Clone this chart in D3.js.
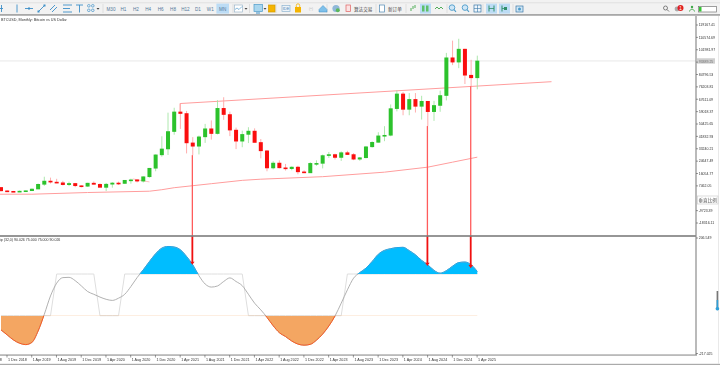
<!DOCTYPE html>
<html><head><meta charset="utf-8">
<script src="https://cdn.jsdelivr.net/npm/d3@7/dist/d3.min.js"></script>
<style>
html,body{margin:0;padding:0;background:#fff;overflow:hidden}
svg{display:block;filter:blur(.3px)}
text{font-family:"Liberation Sans","DejaVu Sans",sans-serif}
</style></head><body>
<div id="chart"></div>
<script>
const chartTitle = "BTCUSD, Monthly:  Bitcoin vs US Dollar";
const indicatorTitle = "ip (32,0) 90.026 75.000 75.000 90.026";
const firstMonth = [2018, 10];
const opens  = [6370,4020,3700,3450,3800,4100,5260,8550,10800,10080,9600,8300,9150,7560,7200,9350,8530,6420,8620,9450,9140,11350,11650,10780,13800,19700,29000,33100,45200,58800,57700,37300,35000,41500,47100,43800,61300,57000,46200,38500,43200,45500,37600,31800,19900,23300,20000,19400,20500,17200,16500,23100,23100,28500,29200,27200,30500,29200,26000,27000,34600,37700,42200,42600,61100,71300,60600,67500,62700,66200,59000,63300,70200,96400,93400,102400,84300,82500];
const highs  = [6600,4400,3950,4200,4150,5620,9100,13800,13200,12350,10950,10400,9530,7750,9600,10500,9200,9500,10000,10400,11450,12470,12050,14100,19900,29300,41900,58300,61700,64800,59500,41300,42400,50500,52900,67000,69000,59000,47900,45800,48200,47400,40000,32300,24600,25200,22700,21000,21400,18300,23900,25200,29200,31000,29800,31400,31800,30200,27500,35200,38400,44700,48900,64000,73800,72700,71900,71900,70000,65000,66500,73600,99800,108300,109600,102700,95000,97900];
const lows   = [3650,3150,3350,3400,3700,4050,5250,7450,9100,9300,7750,7300,6550,6430,6850,8450,8500,3850,6200,8100,8900,9000,9900,9800,13200,17600,27700,28900,43000,47000,30000,28800,29300,37300,39600,43200,53300,42000,33000,34300,37200,37600,26600,17600,18900,19600,18100,18300,15500,16300,16500,21400,19600,26900,25800,24800,28900,25300,24900,26600,34000,37600,38500,41900,59200,56500,56500,58400,53500,49000,52600,58900,66800,91300,89200,78200,76600,74500];
const closes = [4020,3700,3450,3800,4100,5260,8550,10800,10080,9600,8300,9150,7560,7200,9350,8530,6420,8620,9450,9140,11350,11650,10780,13800,19700,29000,33100,45200,58800,57700,37300,35000,41500,47100,43800,61300,57000,46200,38500,43200,45500,37600,31800,19900,23300,20000,19400,20500,17200,16500,23100,23100,28500,29200,27200,30500,29200,26000,27000,34600,37700,42200,42600,61100,71300,60600,67500,62700,66200,59000,63300,70200,96400,93400,102400,84300,82500,94200];
const maMonths = [-1,5,14,24,26,28,34,39,42,52,62,69,73,77];
const maPrices = [1670,1670,2850,3760,4800,6190,8980,11300,12100,13850,16980,20460,23930,27400];
const priceTicks = ["119167.41","110574.69","101981.97","93389.25","84796.53","76203.81","67611.09","59018.37","50425.65","41832.93","33240.21","24647.49","16054.77","7462.05","-9723.39","-18316.11"];
const currentPrice = 94200;
const trendMonths = [28.95, 89];
const trendPrices = [64640, 79800];
const trendSmallMonths = [21.3, 24];
const trendSmallPrices = [12300, 10200];
const oscValues = [-126,-144,-162,-174,-179,-171,-130,-70,-4,42,62,63,51,32,12,2,-8,-16,-20,-12,2,30,62,90,120,148,168,174,172,162,138,108,69,39,28,32,48,61,48,33,2,-30,-54,-81,-111,-136,-150,-166,-177,-181,-178,-163,-141,-112,-76,-30,18,60,80,96,120,146,160,166,170,171,159,144,124,108,88,78,87,103,116,118,108,84];
const stepValues = [-75,-75,-75,-75,-75,-75,-75,-75,-75,75,75,75,75,75,75,75,-75,-75,-75,-75,75,75,75,75,75,75,75,75,75,75,75,75,75,75,75,75,75,75,75,75,-75,-75,-75,-75,-75,-75,-75,-75,-75,-75,-75,-75,-75,-75,-75,-75,75,75,75,75,75,75,75,75,75,75,75,75,75,75,75,75,75,75,75,75,75,75];
const oscTicks = [206.549,-217.025];
const arrowMonths = [31, 69, 76];
const arrowEndOsc = [108, 104, 96];
const timeframes = ["M30","H1","H2","H4","H6","H8","H12","D1","W1","MN"];
const monthNames = ["Jan","Feb","Mar","Apr","May","Jun","Jul","Aug","Sep","Oct","Nov","Dec"];

const W=720,H=365;
const svg=d3.select("#chart").append("svg").attr("width",W).attr("height",H).attr("viewBox",`0 0 ${W} ${H}`);
const axisX=696, mainTop=16, sepY=236, oscBottom=355;
const x=d3.scaleLinear().domain([0,77]).range([1,477.3]);
const y=d3.scaleLinear().domain([119167.41,-18316.11]).range([25,223]);
const yo=d3.scaleLinear().domain([75,-75]).range([274,315.7]);
const defs=svg.append("defs");
defs.append("clipPath").attr("id","cm").append("rect").attr("x",0).attr("y",mainTop).attr("width",axisX).attr("height",sepY-mainTop);
defs.append("clipPath").attr("id","co").append("rect").attr("x",0).attr("y",sepY).attr("width",axisX).attr("height",oscBottom-sepY);
defs.append("clipPath").attr("id","up").append("rect").attr("x",0).attr("y",sepY).attr("width",axisX).attr("height",yo(75)-sepY);
defs.append("clipPath").attr("id","dn").append("rect").attr("x",0).attr("y",yo(-75)).attr("width",axisX).attr("height",oscBottom-yo(-75));

/* toolbar */
const tb=svg.append("g");
tb.append("rect").attr("width",W).attr("height",14).attr("fill","#f2f2f2");
tb.append("rect").attr("y",2.4).attr("width",W).attr("height",.8).attr("fill","#dcdcdc");
tb.append("rect").attr("y",14).attr("width",W).attr("height",1.8).attr("fill","#a8a8a8");
const iconBlue="#3d8fc7";
const xTf=d3.scaleLinear().domain([0,9]).range([111,222.7]);
tb.append("rect").attr("x",xTf(9)-6.3).attr("y",3.6).attr("width",12.6).attr("height",10).attr("fill","#bcdcf5");
tb.selectAll("text.tf").data(timeframes).join("text").attr("class","tf").attr("x",(d,i)=>xTf(i)).attr("y",10.6)
  .attr("text-anchor","middle").attr("font-size",4.6).attr("fill","#54799a").text(d=>d);
const line=(x1,y1,x2,y2,c=iconBlue,w=.9)=>tb.append("line").attr("x1",x1).attr("y1",y1).attr("x2",x2).attr("y2",y2).attr("stroke",c).attr("stroke-width",w);
const box=(x0,y0,w,h,c,s)=>tb.append("rect").attr("x",x0).attr("y",y0).attr("width",w).attr("height",h).attr("fill",c).attr("stroke",s||"none").attr("stroke-width",.7);
line(0,8.5,3,8.5);line(1.5,5,1.5,12);
line(17,4.5,17,12.5);line(25,8.5,33,8.5);box(28,7.5,2,2,iconBlue);
line(38,12,45,5);box(37.5,10.5,2,2,iconBlue);box(43.5,4.5,2,2,iconBlue);
line(50,10,55,5);line(52,12,57,7);
line(63,5,72,5);line(63,8.5,70,8.5);line(63,12,72,12);
line(76,5,83,5);line(79.5,5,79.5,12.5);
[[88,5],[92,5],[88,9.5],[92,9.5]].forEach(p=>tb.append("circle").attr("cx",p[0]+.8).attr("cy",p[1]+.8).attr("r",1.3).attr("fill","none").attr("stroke",iconBlue).attr("stroke-width",.7));
tb.append("path").attr("d","M96.5 8l3 0-1.5 1.7z").attr("fill","#444");
[103,233,249.5,276,327,376,406,447,483,513].forEach(p=>line(p,4,p,13,"#d0d0d0",.6));
box(234.5,5,8,7,"#fff","#9fb8cc");tb.append("path").attr("d","M235 9.5l2-1.5 2 1.5 3-3").attr("fill","none").attr("stroke",iconBlue).attr("stroke-width",.6);
tb.append("path").attr("d","M244.5 8l3 0-1.5 1.7z").attr("fill","#444");
box(254,4.5,8.5,7,"#a9d6ee","#4c9bc9");tb.append("path").attr("d","M256 13h4").attr("stroke",iconBlue);
tb.append("path").attr("d","M263.5 8l3 0-1.5 1.7z").attr("fill","#444");
box(268.5,5,6.5,7,"#f5b400","#d49b00");
box(282,5.5,8,6,"#eef4f9","#8fb4d0");
tb.append("text").attr("x",286).attr("y",10).attr("text-anchor","middle").attr("font-size",4).attr("fill","#4a86b3").text("IDE");
box(295,7,6,5.5,"#f5b400");tb.append("path").attr("d","M296.3 7V5.5a1.7 1.7 0 0 1 3.4 0V7").attr("fill","none").attr("stroke","#f5b400").attr("stroke-width",.8);
tb.append("text").attr("x",311).attr("y",10).attr("text-anchor","middle").attr("font-size",4).attr("fill","#bbb").text("(•)");
tb.append("path").attr("d","M319 9.5l4-4 4 4v2.5h-8z").attr("fill","#7ec0ea").attr("stroke",iconBlue).attr("stroke-width",.5);
tb.append("circle").attr("cx",336).attr("cy",8.5).attr("r",3.6).attr("fill","#8fb8d8");
tb.append("circle").attr("cx",337.8).attr("cy",10.2).attr("r",2).attr("fill","#5cb85c");
box(346,5,4.5,6.5,"#fbe3e3","#e06060");
tb.append("text").attr("x",354).attr("y",10.5).attr("font-size",4.6).attr("fill","#444").attr("style",'font-family:"Noto Sans CJK SC"').text("算法交易");
box(379.5,5,5,7,"#fff","#4c86b3");
tb.append("text").attr("x",388).attr("y",10.5).attr("font-size",4.6).attr("fill","#444").attr("style",'font-family:"Noto Sans CJK SC"').text("新订单");
tb.append("path").attr("d","M411 11V8M413 9V6M415 8V5").attr("stroke","#3fa648").attr("stroke-width",.9);
box(420,3.6,11,10,"#bcdcf5");box(422,5.5,2.5,6,"#5cc06a");box(426,5.5,2.5,6,"#5cc06a");
tb.append("path").attr("d","M435 9l2-2 2 2 2-2 2 2").attr("fill","none").attr("stroke","#3fa648").attr("stroke-width",.9);
[[452,"#4c9bc9"],[465,"#4c9bc9"]].forEach(p=>{tb.append("circle").attr("cx",p[0]).attr("cy",7.6).attr("r",2.8).attr("fill","#cfe6f6").attr("stroke",p[1]).attr("stroke-width",.9);line(p[0]+2,9.6,p[0]+4,11.8,p[1],1.1);});
box(474,5,7,7,"#eef6fc","#3a78a8");line(477.5,5,477.5,12,"#3a78a8",.6);line(474,8.5,481,8.5,"#3a78a8",.6);
box(486,3.6,11,10,"#bcdcf5");box(499,3.6,11,10,"#bcdcf5");
line(489,5.5,489,11.5,"#2f8f6a",1);line(494,5.5,494,11.5,"#2f8f6a",1);line(489,8.5,494,8.5,"#2f8f6a",.8);
line(502,5.5,502,11.5,"#2f8f6a",1);line(507,8.5,502,8.5,"#2f8f6a",.8);box(504,7,3,3,"#2f8f6a");
box(516,6,7,6,"#cfe6f6","#3a78a8");tb.append("circle").attr("cx",519.5).attr("cy",9).attr("r",1.5).attr("fill","#4c9bc9");
tb.append("circle").attr("cx",665.5).attr("cy",8).attr("r",2).attr("fill","none").attr("stroke","#666").attr("stroke-width",.8);line(667,9.5,669,11.5,"#666",.9);
tb.append("circle").attr("cx",677).attr("cy",9).attr("r",2.4).attr("fill","#aaa");
tb.append("circle").attr("cx",680.5).attr("cy",8).attr("r",3).attr("fill","#e02020");
tb.append("text").attr("x",680.5).attr("y",9.8).attr("text-anchor","middle").attr("font-size",4.6).attr("fill","#fff").text("1");
tb.append("circle").attr("cx",692).attr("cy",7).attr("r",1.2).attr("fill","#3fa648");
tb.append("path").attr("d","M689.5 11.5c.5-3 4.5-3 5 0").attr("fill","none").attr("stroke","#3fa648").attr("stroke-width",.9);
box(698.5,6.5,18,5.5,"#fff","#777");box(699,7,2.5,4.5,"#36c536");

/* main panel */
const main=svg.append("g").attr("clip-path","url(#cm)");
main.append("line").attr("x1",0).attr("x2",axisX).attr("y1",y(currentPrice)).attr("y2",y(currentPrice)).attr("stroke","#e2e2e2").attr("stroke-width",.8);
const ma=d3.line().x(d=>x(d[0])).y(d=>y(d[1]));
main.append("path").attr("d",ma(d3.zip(maMonths,maPrices))).attr("fill","none").attr("stroke","#ff9d9d").attr("stroke-width",1);
main.append("path").attr("d",ma(d3.zip(trendMonths,trendPrices))).attr("fill","none").attr("stroke","#ff9d9d").attr("stroke-width",1);
main.append("line").attr("x1",x(trendMonths[0])).attr("x2",x(trendMonths[0])).attr("y1",y(trendPrices[0])).attr("y2",y(opens[29])).attr("stroke","#ff9d9d").attr("stroke-width",.9);
main.append("path").attr("d",ma(d3.zip(trendSmallMonths,trendSmallPrices))).attr("fill","none").attr("stroke","#ffb0b0").attr("stroke-width",.8);
const idx=d3.range(opens.length);
const up=i=>closes[i]>=opens[i];
main.selectAll("line.w").data(idx).join("line").attr("class","w").attr("x1",i=>x(i)).attr("x2",i=>x(i))
  .attr("y1",i=>y(highs[i])).attr("y2",i=>y(lows[i])).attr("stroke",i=>up(i)?"#a5e5a5":"#ffa5a5").attr("stroke-width",.9);
main.selectAll("rect.b").data(idx).join("rect").attr("class","b").attr("x",i=>x(i)-2).attr("width",4)
  .attr("y",i=>Math.min(y(opens[i]),y(closes[i]))-.3)
  .attr("height",i=>Math.max(1.6,Math.abs(y(opens[i])-y(closes[i]))+.6))
  .attr("fill",i=>up(i)?"#2cc22c":"#fa0e0e");
svg.append("text").attr("x",1).attr("y",21.4).attr("font-size",3.75).attr("fill","#333").text(chartTitle);

/* oscillator */
const osc=svg.append("g").attr("clip-path","url(#co)");
const curve=d3.curveMonotoneX;
const stepLine=d3.line().x((d,i)=>x(i)).y(d=>yo(d));
const oscLine=d3.line().x((d,i)=>x(i)).y(d=>yo(d)).curve(curve);
osc.append("path").attr("d",stepLine(stepValues)).attr("fill","none").attr("stroke","#dedede").attr("stroke-width",1);
const areaUp=d3.area().x((d,i)=>x(i)).y0(yo(75)).y1(d=>yo(d)).curve(curve);
const areaDn=d3.area().x((d,i)=>x(i)).y0(yo(-75)).y1(d=>yo(d)).curve(curve);
osc.append("path").attr("clip-path","url(#up)").attr("d",areaUp(oscValues)).attr("fill","#00bdff");
osc.append("path").attr("clip-path","url(#dn)").attr("d",areaDn(oscValues)).attr("fill","#f4a662");
osc.append("path").attr("d",oscLine(oscValues)).attr("fill","none").attr("stroke","#a8a8a8").attr("stroke-width",.9);
osc.append("path").attr("clip-path","url(#up)").attr("d",oscLine(oscValues)).attr("fill","none").attr("stroke","#1aa8ee").attr("stroke-width",1);
osc.append("path").attr("clip-path","url(#dn)").attr("d",oscLine(oscValues)).attr("fill","none").attr("stroke","#ff5a1a").attr("stroke-width",1);
svg.append("text").attr("x",0).attr("y",240.5).attr("font-size",3.55).attr("fill","#333").text(indicatorTitle);

/* arrows start at the low of their month's bar */
arrowMonths.forEach((m,i)=>{
  const ax=x(m)-.4;
  svg.append("line").attr("x1",ax).attr("x2",ax).attr("y1",y(lows[m])).attr("y2",sepY).attr("stroke","#ff5c5c").attr("stroke-width",1.3);
  svg.append("line").attr("x1",ax).attr("x2",ax).attr("y1",sepY).attr("y2",yo(arrowEndOsc[i])-2).attr("stroke","#f01010").attr("stroke-width",1.8);
  const e=yo(arrowEndOsc[i]);
  svg.append("path").attr("d",`M${ax-2.2} ${e-3.2}L${ax+2.2} ${e-3.2}L${ax} ${e}Z`).attr("fill","#f01010");
});

/* frames and axes */
svg.append("rect").attr("x",0).attr("y",sepY-.8).attr("width",axisX).attr("height",1.6).attr("fill","#7d7d7d");
svg.append("rect").attr("x",axisX-.6).attr("y",mainTop).attr("width",1.2).attr("height",oscBottom-mainTop).attr("fill","#8d8d8d");
svg.append("rect").attr("x",0).attr("y",oscBottom-.5).attr("width",axisX+1).attr("height",1.1).attr("fill","#8d8d8d");
svg.append("rect").attr("x",0).attr("y",363.8).attr("width",W).attr("height",1.2).attr("fill","#aaa");
svg.append("rect").attr("x",718).attr("y",mainTop).attr("width",.8).attr("height",348).attr("fill","#e4e4e4");

svg.append("rect").attr("x",697).attr("y",y(currentPrice)-2.7).attr("width",18).attr("height",5.4).attr("fill","#cfcfcf");
priceTicks.forEach(t=>{
  const yy=y(+t);
  svg.append("line").attr("x1",axisX).attr("x2",axisX+2).attr("y1",yy).attr("y2",yy).attr("stroke","#555").attr("stroke-width",.6);
  svg.append("text").attr("x",698.7).attr("y",yy+1.3).attr("font-size",3.5).attr("fill",t===priceTicks[3]?"#777":"#333").text(t);
});
svg.append("rect").attr("x",697.5).attr("y",196).attr("width",20.5).attr("height",8).attr("fill","#fff").attr("stroke","#cfcfcf").attr("stroke-width",.7);
svg.append("text").attr("x",707.7).attr("y",201.8).attr("text-anchor","middle").attr("font-size",4.6).attr("fill","#555").attr("style",'font-family:"Noto Sans CJK SC"').text("垂直比例");
const oscTickY=[238,353.5];
oscTicks.forEach((t,i)=>{
  svg.append("line").attr("x1",axisX).attr("x2",axisX+2).attr("y1",oscTickY[i]).attr("y2",oscTickY[i]).attr("stroke","#555").attr("stroke-width",.6);
  svg.append("text").attr("x",698.7).attr("y",oscTickY[i]+1.3).attr("font-size",3.5).attr("fill","#333").text(t.toFixed(3));
});
svg.append("rect").attr("x",716.6).attr("y",291).attr("width",1.6).attr("height",18).attr("fill","#777");
svg.append("rect").attr("x",716.6).attr("y",300).attr("width",1.6).attr("height",9).attr("fill","#2f9fd8");
svg.append("rect").attr("x",715.6).attr("y",307).attr("width",3.6).attr("height",3.4).attr("rx",1.6).attr("fill","#2f9fd8");

/* date axis: every fourth month, starting before the first bar */
d3.range(-3,78,4).forEach(i=>{
  const total=firstMonth[0]*12+firstMonth[1]+i;
  const label=`1 ${monthNames[total%12]} ${Math.floor(total/12)}`;
  const tx=x(i)-.2;
  svg.append("line").attr("x1",tx).attr("x2",tx).attr("y1",oscBottom).attr("y2",oscBottom+2.5).attr("stroke","#555").attr("stroke-width",.6);
  svg.append("text").attr("x",tx+1).attr("y",360.5).attr("font-size",3.7).attr("fill","#333").text(label);
});
</script>
</body></html>
